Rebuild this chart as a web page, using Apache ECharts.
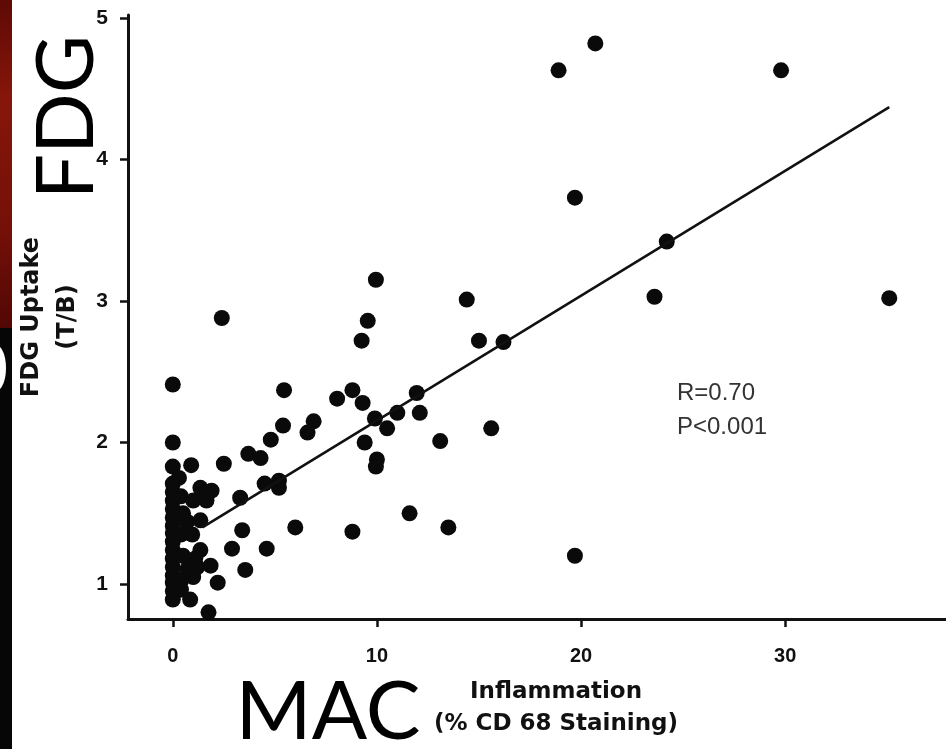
<!DOCTYPE html>
<html>
<head>
<meta charset="utf-8">
<title>FDG uptake vs MAC inflammation</title>
<script src="https://cdn.jsdelivr.net/npm/echarts/dist/echarts.min.js"></script>
<style>
  html, body { margin: 0; padding: 0; background: #fff; }
  #chart1 { width: 946px; height: 749px; }
</style>
</head>
<body>
<div id="chart1"></div>
<script>
// MAC inflammation (% CD68 staining) and FDG uptake (T/B)
var macValues = [
    20.7, 18.9, 29.8, 19.7, 24.2, 23.6, 35.1, 14.4, 9.95, 2.4,
    9.55, 9.25, 15.0, 16.2, 19.7, 15.6, 13.1, 13.5, 11.6, 8.8,
    11.95, 12.1, 11.0, 10.5, 9.9, 10.0, 9.95, 9.4, 8.8, 9.3,
    8.05, 6.9, 6.6, 5.45, 5.4, 6.0,
    4.8, 3.7, 4.3, 2.5, 0.9, 4.5, 5.2, 5.2, 3.3, 3.4,
    2.9, 4.6, 3.55, 1.85, 2.2, 1.75,
    0, 0, 0, 0, 0, 0, 0, 0, 0, 0, 0, 0, 0, 0, 0, 0, 0, 0,
    0.4, 0.5, 0.7, 0.4, 0.95, 0.5, 0.7, 0.4, 0.4, 0.85,
    1.0, 1.35, 1.9, 1.65, 1.0, 1.35, 1.35, 1.6, 0.3, 1.2,
    0.8, 1.1
];
var fdgValues = [
    4.82, 4.63, 4.63, 3.73, 3.42, 3.03, 3.02, 3.01, 3.15, 2.88,
    2.86, 2.72, 2.72, 2.71, 1.20, 2.10, 2.01, 1.40, 1.50, 1.37,
    2.35, 2.21, 2.21, 2.10, 2.17, 1.88, 1.83, 2.00, 2.37, 2.28,
    2.31, 2.15, 2.07, 2.37, 2.12, 1.40,
    2.02, 1.92, 1.89, 1.85, 1.84, 1.71, 1.73, 1.68, 1.61, 1.38,
    1.25, 1.25, 1.10, 1.13, 1.01, 0.80,
    2.41, 2.00, 1.83, 1.71, 1.65, 1.59, 1.53, 1.47, 1.41, 1.36, 1.30, 1.24, 1.18, 1.12, 1.06, 1.01, 0.95, 0.89,
    1.62, 1.50, 1.44, 1.35, 1.35, 1.20, 1.10, 1.02, 0.96, 0.89,
    1.05, 1.68, 1.66, 1.59, 1.59, 1.45, 1.24, 1.64, 1.75, 1.12,
    1.15, 1.18
];
// regression line end points
var fitX = [1.45, 35.1];
var fitY = [1.40, 4.37];
var xTicks = [0, 10, 20, 30];
var yTicks = [1, 2, 3, 4, 5];

_initChart();

function _initChart () {
    var myChart = echarts.init(document.getElementById('chart1'));
    var points = macValues.map(function (x, i) { return [x, fdgValues[i]]; });
    var fitLine = fitX.map(function (x, i) { return [x, fitY[i]]; });
    var tickFont = '"Liberation Sans Narrow", "Liberation Sans", sans-serif';
    var option = {
        backgroundColor: '#fff',
        animation: false,
        grid: {
            left: 128,
            right: 0,
            top: 15,
            bottom: 130
        },
        xAxis: {
            type: 'value',
            min: -2.195,
            max: 37.88,
            name: 'Inflammation\n(% CD 68 Staining)',
            nameLocation: 'middle',
            nameGap: 57,
            nameTextStyle: {
                fontFamily: 'DejaVu Sans',
                fontWeight: 'bold',
                fontSize: 23,
                lineHeight: 32,
                color: '#111',
                padding: [0, 0, 0, 38]
            },
            axisLine: { onZero: false, lineStyle: { color: '#111', width: 3 } },
            axisTick: {
                customValues: xTicks,
                length: 8,
                lineStyle: { color: '#111', width: 2.5 }
            },
            axisLabel: {
                customValues: xTicks,
                margin: 27,
                fontFamily: tickFont,
                fontWeight: 'bold',
                fontSize: 20,
                color: '#111'
            },
            splitLine: { show: false }
        },
        yAxis: {
            type: 'value',
            min: 0.753,
            max: 5.021,
            name: 'FDG Uptake\n(T/B)',
            nameLocation: 'middle',
            nameRotate: 90,
            nameGap: 33,
            nameTextStyle: {
                fontFamily: 'DejaVu Sans',
                fontWeight: 'bold',
                fontSize: 24,
                lineHeight: 36,
                color: '#111'
            },
            axisLine: { show: true, onZero: false, lineStyle: { color: '#111', width: 3 } },
            axisTick: {
                show: true,
                customValues: yTicks,
                length: 8,
                lineStyle: { color: '#111', width: 2.5 }
            },
            axisLabel: {
                customValues: yTicks,
                margin: 20,
                fontFamily: tickFont,
                fontWeight: 'bold',
                fontSize: 21,
                color: '#111'
            },
            splitLine: { show: false }
        },
        graphic: [
            // dark red / black strip of the photo on the left edge
            {
                type: 'rect',
                shape: { x: 0, y: 0, width: 12, height: 328 },
                style: {
                    fill: new echarts.graphic.LinearGradient(0, 0, 0, 1, [
                        { offset: 0, color: '#5e0a05' },
                        { offset: 0.3, color: '#86160a' },
                        { offset: 0.7, color: '#741008' },
                        { offset: 1, color: '#520704' }
                    ])
                }
            },
            {
                type: 'rect',
                shape: { x: 0, y: 328, width: 12, height: 421 },
                style: { fill: '#060606' }
            },
            {
                type: 'ellipse',
                shape: { cx: -4, cy: 368, rx: 10, ry: 23 },
                style: { fill: '#fff' }
            },
            {
                type: 'text',
                x: 67,
                y: 117,
                rotation: Math.PI / 2,
                style: {
                    text: 'FDG',
                    font: '80px Lato',
                    fill: '#000',
                    textAlign: 'center',
                    textVerticalAlign: 'middle'
                }
            },
            {
                type: 'text',
                x: 328,
                y: 713,
                style: {
                    text: 'MAC',
                    font: '82px Lato',
                    fill: '#000',
                    textAlign: 'center',
                    textVerticalAlign: 'middle'
                }
            },
            {
                type: 'text',
                x: 677,
                y: 393,
                style: {
                    text: 'R=0.70',
                    font: '24px "Liberation Sans"',
                    fill: '#333',
                    textVerticalAlign: 'middle'
                }
            },
            {
                type: 'text',
                x: 677,
                y: 427,
                style: {
                    text: 'P<0.001',
                    font: '24px "Liberation Sans"',
                    fill: '#333',
                    textVerticalAlign: 'middle'
                }
            }
        ],
        series: [
            {
                type: 'scatter',
                data: points,
                symbol: 'circle',
                symbolSize: 16,
                itemStyle: { color: '#0a0a0a', opacity: 1 },
                z: 3
            },
            {
                type: 'line',
                data: fitLine,
                showSymbol: false,
                symbol: 'none',
                lineStyle: { color: '#111', width: 2.5 },
                z: 4
            }
        ]
    };
    myChart.setOption(option);
    window.onresize = myChart.resize;
}
</script>
</body>
</html>
